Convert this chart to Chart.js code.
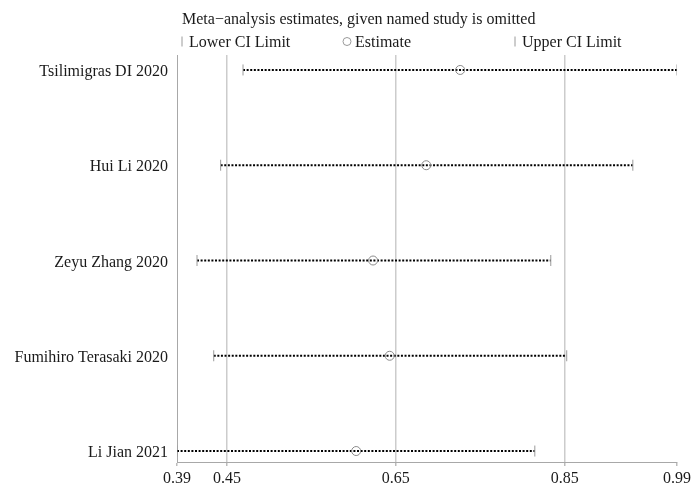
<!DOCTYPE html>
<html>
<head>
<meta charset="utf-8">
<script src="https://cdn.jsdelivr.net/npm/chart.js@4.4.1/dist/chart.umd.min.js"></script>
<style>
  html, body { margin: 0; padding: 0; background: #ffffff; }
  #wrap { width: 697px; height: 491px; position: relative; }
</style>
</head>
<body>
<div id="wrap"><canvas id="c" width="697" height="491"></canvas></div>
<script>
// ---- data ----
const studies = ['Tsilimigras DI 2020', 'Hui Li 2020', 'Zeyu Zhang 2020', 'Fumihiro Terasaki 2020', 'Li Jian 2021'];
const lowerCI = [0.4690, 0.4425, 0.4145, 0.4343, 0.3908];
const estimate = [0.7262, 0.6860, 0.6230, 0.6427, 0.6030];
const upperCI = [0.9830, 0.9307, 0.8335, 0.8524, 0.8146];
const tickValues = [0.3908, 0.45, 0.65, 0.85, 0.9830];
const tickLabels = ['0.39', '0.45', '0.65', '0.85', '0.99'];
const titleText = 'Meta\u2212analysis estimates, given named study is omitted';
const legendLabels = ['Lower CI Limit', 'Estimate', 'Upper CI Limit'];

const FONT = '"Liberation Serif", "Times New Roman", serif';
const rowY = studies.map((s, i) => studies.length - i); // top study = 5

const lineSets = studies.map((s, i) => ({
  type: 'line',
  label: s,
  data: [{ x: lowerCI[i], y: rowY[i] }, { x: upperCI[i], y: rowY[i] }],
  borderColor: '#000000',
  borderWidth: 2,
  borderDash: [2, 1.6],
  pointRadius: 0,
  fill: false,
  order: 3
}));

const markerSets = [
  {
    type: 'scatter',
    label: legendLabels[0],
    data: studies.map((s, i) => ({ x: lowerCI[i], y: rowY[i] })),
    pointStyle: 'line', rotation: 90, pointRadius: 5.5,
    borderColor: '#9a9a9a', borderWidth: 1, order: 1
  },
  {
    type: 'scatter',
    label: legendLabels[1],
    data: studies.map((s, i) => ({ x: estimate[i], y: rowY[i] })),
    pointStyle: 'circle', pointRadius: 4.5,
    borderColor: '#8a8a8a', backgroundColor: 'rgba(0,0,0,0)', borderWidth: 1, order: 1
  },
  {
    type: 'scatter',
    label: legendLabels[2],
    data: studies.map((s, i) => ({ x: upperCI[i], y: rowY[i] })),
    pointStyle: 'line', rotation: 90, pointRadius: 5.5,
    borderColor: '#9a9a9a', borderWidth: 1, order: 1
  }
];

const headerPlugin = {
  id: 'header',
  afterDraw(chart) {
    const ctx = chart.ctx;
    ctx.save();
    ctx.fillStyle = '#1a1a1a';
    ctx.font = '16px ' + FONT;
    ctx.textBaseline = 'middle';
    ctx.textAlign = 'left';
    ctx.fillText(titleText, 182, 19.5);
    const ly = 42.5;
    ctx.strokeStyle = '#9a9a9a'; ctx.lineWidth = 1;
    ctx.beginPath(); ctx.moveTo(182, ly - 6); ctx.lineTo(182, ly + 4); ctx.stroke();
    ctx.fillText(legendLabels[0], 189, ly);
    ctx.beginPath(); ctx.arc(347, ly - 1, 4, 0, Math.PI * 2); ctx.stroke();
    ctx.fillText(legendLabels[1], 355, ly);
    ctx.beginPath(); ctx.moveTo(515, ly - 6); ctx.lineTo(515, ly + 4); ctx.stroke();
    ctx.fillText(legendLabels[2], 522, ly);
    ctx.restore();
  }
};

new Chart(document.getElementById('c'), {
  data: { datasets: [...lineSets, ...markerSets] },
  plugins: [headerPlugin],
  options: {
    responsive: false,
    animation: false,
    layout: { padding: { top: 55, right: 20, left: 0, bottom: 0 } },
    plugins: { legend: { display: false }, tooltip: { enabled: false }, title: { display: false } },
    scales: {
      x: {
        type: 'linear',
        min: tickValues[0], max: tickValues[tickValues.length - 1],
        afterBuildTicks: (scale) => { scale.ticks = tickValues.map(v => ({ value: v })); },
        afterFit: (scale) => { scale.height = 29; },
        ticks: {
          autoSkip: false, maxRotation: 0, padding: 3,
          color: '#1a1a1a', font: { family: FONT, size: 16 },
          callback: (v, i) => tickLabels[i]
        },
        border: { display: true, color: '#a8a8a8', width: 1 },
        grid: {
          color: (c) => (c.index === 0 || c.index === tickValues.length - 1) ? 'rgba(0,0,0,0)' : '#cccccc',
          lineWidth: 1.5,
          tickColor: '#bbbbbb',
          tickLength: 4
        }
      },
      y: {
        type: 'linear',
        min: 0.885, max: 5.157,
        afterBuildTicks: (scale) => { scale.ticks = rowY.map(v => ({ value: v })); },
        afterFit: (scale) => { scale.width = 177; },
        ticks: {
          autoSkip: false, padding: 9, labelOffset: 2,
          color: '#1a1a1a', font: { family: FONT, size: 16 },
          callback: (v) => { const i = rowY.indexOf(v); return i >= 0 ? studies[i] : ''; }
        },
        border: { display: true, color: '#a8a8a8', width: 1 },
        grid: { display: false, drawTicks: false }
      }
    }
  }
});
</script>
</body>
</html>
